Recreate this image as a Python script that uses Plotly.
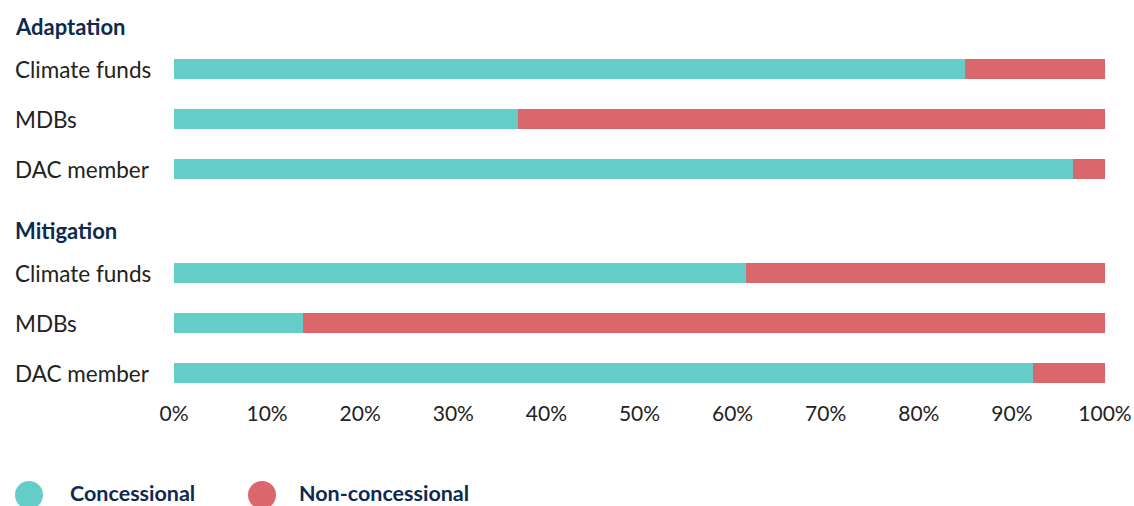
import plotly.graph_objects as go

# ---- data ----
groups = ["Adaptation", "Mitigation"]
categories = ["Climate funds", "MDBs", "DAC member"]
concessional_adaptation = [85.0, 36.9, 96.6]
concessional_mitigation = [61.4, 13.9, 92.3]
series_names = ["Concessional", "Non-concessional"]
tick_values = [0, 10, 20, 30, 40, 50, 60, 70, 80, 90, 100]
tick_labels = [f"{v}%" for v in tick_values]

# ---- style ----
TEAL = "#65CDC8"
RED = "#DA676C"
NAVY = "#0E2A4F"
TEXT = "#222222"
FONT = "Lato"

W, H = 1134, 506
L, R = 174, 1105          # plot x pixels
T, B = 0, 393             # plot y pixels

def px_x(px):
    return (px - L) / (R - L)

def px_y(py):
    return (B - py) / (B - T)

# y positions (in rows; 1 row = 50 px)
group_gap = 2.08
ypos = {}
header_y = {}
for gi, g in enumerate(groups):
    base = gi * (len(categories) - 1 + group_gap)
    header_y[g] = base - 0.85
    for ci, c in enumerate(categories):
        ypos[(g, c)] = base + ci

conc = {"Adaptation": concessional_adaptation, "Mitigation": concessional_mitigation}

ys, cvals, nvals, labels = [], [], [], []
for g in groups:
    for ci, c in enumerate(categories):
        ys.append(ypos[(g, c)])
        cvals.append(conc[g][ci])
        nvals.append(100 - conc[g][ci])
        labels.append(c)

fig = go.Figure()
fig.add_trace(go.Bar(y=ys, x=cvals, orientation="h", name=series_names[0],
                     marker=dict(color=TEAL, line=dict(width=0)), width=0.4,
                     showlegend=False, hoverinfo="skip"))
fig.add_trace(go.Bar(y=ys, x=nvals, orientation="h", name=series_names[1],
                     marker=dict(color=RED, line=dict(width=0)), width=0.4,
                     showlegend=False, hoverinfo="skip"))

ann = []
# category labels
for y, lab in zip(ys, labels):
    ann.append(dict(x=px_x(13), xref="paper", y=y, yref="y", text=lab,
                    xanchor="left", yanchor="middle", showarrow=False,
                    font=dict(family=FONT, size=22.5, color=TEXT)))
# group headers
for g in groups:
    ann.append(dict(x=px_x(13), xref="paper", y=header_y[g], yref="y",
                    text=f"<b>{g}</b>", xanchor="left", yanchor="middle",
                    showarrow=False, font=dict(family=FONT, size=22, color=NAVY)))

# legend (custom circles)
shapes = []
leg_items = [(series_names[0], TEAL, 15, 68), (series_names[1], RED, 248, 297)]
for name, col, cx0, tx in leg_items:
    shapes.append(dict(type="circle", xref="paper", yref="paper",
                       x0=px_x(cx0), x1=px_x(cx0 + 28),
                       y0=px_y(481), y1=px_y(509),
                       fillcolor=col, line=dict(width=0)))
    ann.append(dict(x=px_x(tx), xref="paper", y=px_y(492.5), yref="paper",
                    text=f"<b>{name}</b>", xanchor="left", yanchor="middle",
                    showarrow=False, font=dict(family=FONT, size=21.5, color=NAVY)))

total_rows_bottom = (B - 69) / 50.0
fig.update_layout(
    width=W, height=H,
    margin=dict(l=L, r=W - R, t=T, b=H - B, pad=0),
    barmode="stack",
    paper_bgcolor="white", plot_bgcolor="white",
    xaxis=dict(range=[0, 100], tickvals=tick_values, ticktext=tick_labels,
               showgrid=False, zeroline=False, showline=False, ticks="",
               ticklabelstandoff=6,
               tickfont=dict(family=FONT, size=21, color=TEXT), fixedrange=True),
    yaxis=dict(range=[total_rows_bottom, -69 / 50.0], showticklabels=False,
               showgrid=False, zeroline=False, showline=False, fixedrange=True),
    annotations=ann, shapes=shapes,
    bargap=0,
)

fig.write_html("out.html", config={"displayModeBar": False},
               post_script="document.body.style.margin='0px';")
